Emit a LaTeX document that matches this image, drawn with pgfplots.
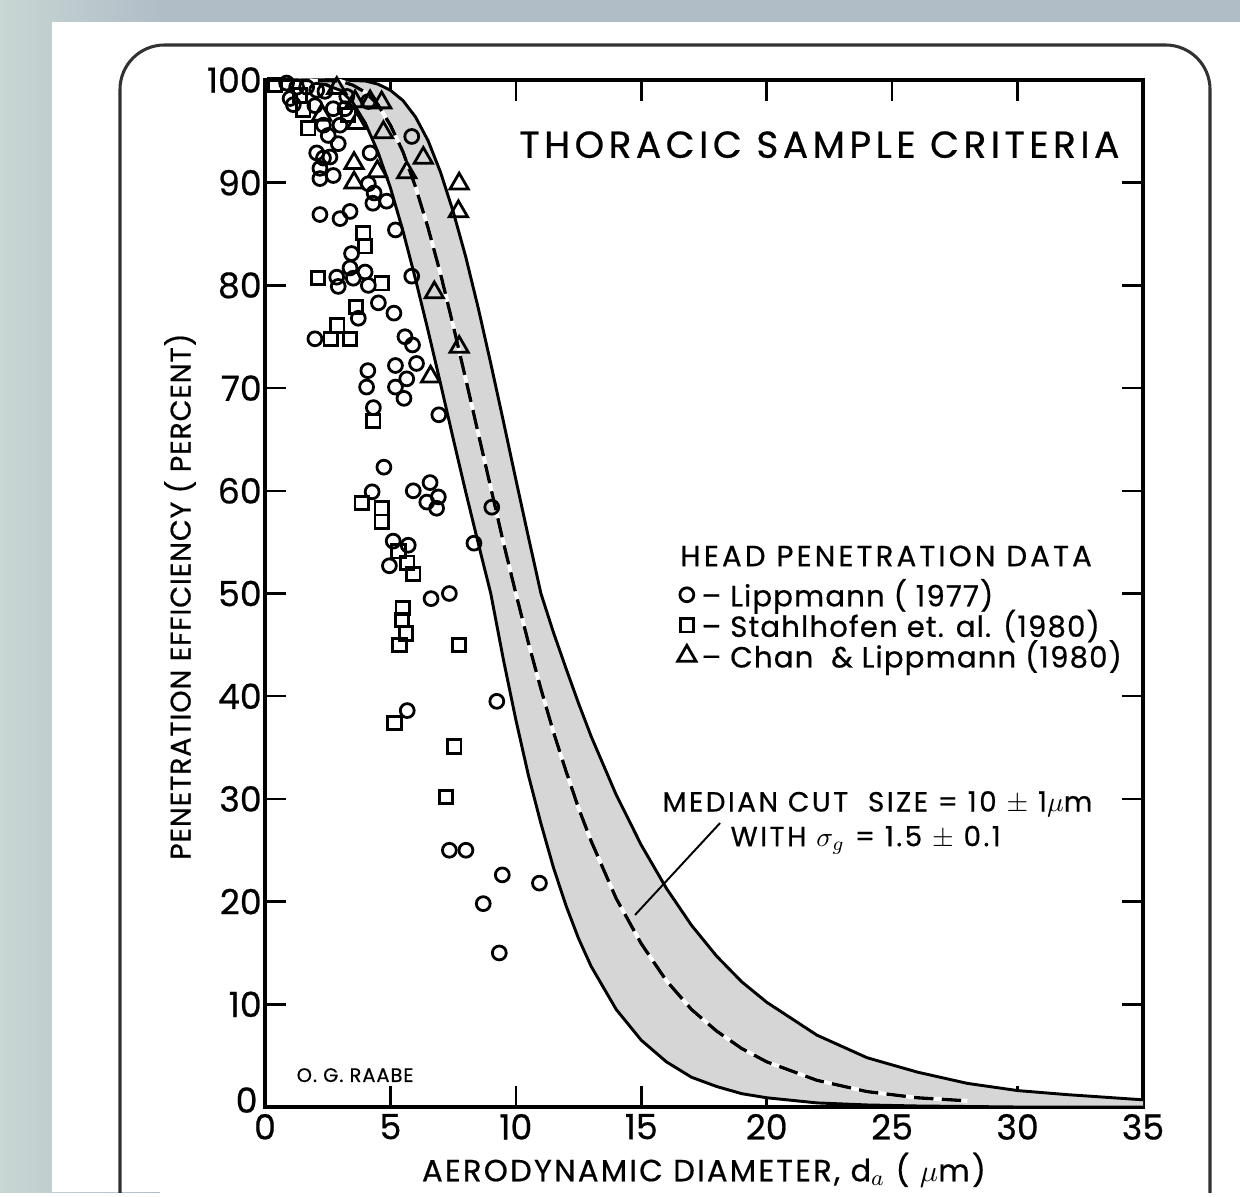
\documentclass[border=0pt]{standalone}
\usepackage{fontspec}
\setmainfont{Poppins}[FakeBold=0.6]
\usepackage{pgfplots}
\usepackage{pgfplotstable}
\pgfplotsset{compat=1.18}

\pgfplotstableread{
d p
1 100
2 99.9
3 99.0
3.5 97.8
4 95.8
4.5 93.0
5 89.5
5.5 85.3
6 80.6
6.5 75.6
7 70.4
7.5 65.1
8 59.9
8.5 54.9
9 50.0
9.5 43.6
10 37.7
10.5 32.3
11 27.6
11.5 23.3
12 19.6
12.5 16.4
13 13.7
14 9.5
15 6.5
16 4.4
17 2.9
18 2.0
19 1.3
20 0.9
22 0.4
24 0.2
26 0.1
30 0.0
35 0.0
}\lowerT

\pgfplotstableread{
d p
1 100
3 100
4 99.9
4.5 99.6
5 99.0
5.5 98.0
6 96.4
6.5 94.1
7 91.0
7.5 87.2
8 82.8
8.5 77.8
9 72.4
9.5 66.8
10 61.1
10.5 55.5
11 50.0
11.5 46.2
12 42.7
12.5 39.3
13 36.1
14 30.4
15 25.5
16 21.3
17 17.7
18 14.7
19 12.2
20 10.2
22 7.0
24 4.8
26 3.4
28 2.3
30 1.6
32 1.2
35 0.7
}\upperT

\pgfplotstableread{
d p
1 100
3 99.9
3.5 99.5
4 98.8
4.5 97.6
5 95.6
5.5 93.0
6 89.6
6.5 85.6
7 81.1
7.5 76.1
8 70.9
8.5 65.6
9 60.3
9.5 55.0
10 50.0
10.5 45.2
11 40.7
11.5 36.5
12 32.7
12.5 29.1
13 25.9
14 20.3
15 15.9
16 12.3
17 9.5
18 7.4
19 5.7
20 4.4
22 2.6
24 1.5
26 0.9
28 0.6
}\medianT

\pgfplotstableread{
x y
0.86 99.7
1.26 99.3
1.00 98.2
1.66 99.3
2.06 99.0
2.39 98.9
3.26 98.4
4.12 97.9
1.13 97.6
1.99 97.5
2.72 97.2
3.19 97.2
2.33 95.6
2.99 95.6
2.52 94.6
2.92 93.8
5.85 94.5
2.06 92.9
2.33 92.4
2.59 92.5
4.19 92.9
2.19 91.4
2.72 90.7
2.19 90.4
4.12 89.9
4.35 89.0
4.30 88.0
4.85 88.2
2.19 86.9
2.99 86.5
3.39 87.2
5.20 85.4
3.45 83.1
3.39 81.7
3.99 81.3
2.86 80.8
2.92 79.9
3.52 80.7
4.12 80.0
5.85 80.9
4.52 78.3
3.72 76.8
5.14 77.3
1.99 74.8
5.58 75.0
5.88 74.2
4.10 71.7
5.20 72.2
6.04 72.4
4.05 70.1
5.20 70.1
5.65 70.9
5.54 69.0
4.32 68.1
6.93 67.4
4.74 62.3
6.58 60.8
5.91 60.0
4.27 59.9
6.91 59.4
6.45 58.9
6.84 58.3
9.04 58.4
8.33 54.9
5.11 55.1
5.71 54.7
4.96 52.7
6.62 49.5
7.35 50.0
9.24 39.5
5.67 38.6
7.35 25.0
8.01 25.0
9.46 22.6
10.94 21.8
8.70 19.8
9.34 15.0
}\lippT

\pgfplotstableread{
x y
0.40 99.5
1.40 98.5
1.53 97.1
3.32 96.6
1.73 95.3
3.92 85.1
3.99 83.8
2.12 80.7
4.65 80.2
3.62 77.9
2.88 76.1
2.62 74.8
3.39 74.8
4.32 66.8
3.85 58.8
4.65 58.3
4.65 57.0
5.32 54.1
5.67 53.0
5.91 51.9
5.49 48.6
5.46 47.4
5.62 46.1
5.36 45.0
7.73 45.0
5.16 37.4
7.55 35.1
7.22 30.2
}\stahlT

\pgfplotstableread{
x y
2.86 99.2
3.59 97.9
4.19 97.9
4.65 97.8
2.26 96.6
3.65 95.8
4.72 94.9
6.31 92.4
3.55 91.9
4.48 91.1
5.65 91.0
3.55 90.0
7.74 89.9
7.71 87.2
6.75 79.3
7.74 74.0
6.60 71.1
}\chanT

\begin{document}
\begin{tikzpicture}
\begin{scope}[x=0.36pt,y=0.36pt]
\clip (0,0) rectangle (1240,1192);
\fill[color={rgb,255:red,176;green,189;blue,199}] (0,0) rectangle (1240,1192);
\shade[left color={rgb,255:red,200;green,214;blue,212}, right color={rgb,255:red,176;green,189;blue,199}] (0,0) rectangle (160,1192);
\fill[white] (52,0) rectangle (1240,1170);
\draw[line width=1.1pt, color={rgb,255:red,50;green,50;blue,50}, rounded corners=16] (120,-40) -- (120,1147) -- (1210,1147) -- (1210,-40);
\end{scope}
\begin{axis}[
  at={(95.4pt,30.6pt)}, anchor=south west,
  scale only axis, width=316.08pt, height=369.72pt,
  xmin=0, xmax=35, ymin=0, ymax=100,
  xtick={0,5,...,35}, ytick={10,20,...,100},
  extra y ticks={0},
  extra y tick style={yticklabel style={yshift=2.5pt, xshift=-1.5pt}},
  tick align=inside, major tick length=7.6pt,
  axis line style={line width=1.1pt},
  tick style={line width=0.9pt, black},
  ticklabel style={font=\fontsize{12.5}{14}\selectfont},
  /pgf/number format/assume math mode=true,
  yticklabel style={inner sep=1pt},
  xticklabel style={yshift=1pt},
  clip=false,
  legend style={draw=none, fill=none, at={(axis cs:16.43,52.0)}, anchor=north west,
    font={\fontsize{10.5}{12}\selectfont\addfontfeatures{LetterSpace=4}}, row sep=-4.3pt, inner sep=0pt},
  legend cell align=left,
  legend image code/.code={\draw[mark repeat=2,mark phase=2,#1] plot coordinates {(0cm,0cm)(0.14cm,0cm)(0.28cm,0cm)};},
]
% shaded band between the two bounding curves (upper forward, lower reversed)
\addplot[fill=black!16, draw=none, forget plot] coordinates {
(1,100)(3,100)(4,99.9)(4.5,99.6)(5,99.0)(5.5,98.0)(6,96.4)(6.5,94.1)(7,91.0)(7.5,87.2)(8,82.8)(8.5,77.8)(9,72.4)(9.5,66.8)(10,61.1)(10.5,55.5)(11,50.0)(11.5,46.2)(12,42.7)(12.5,39.3)(13,36.1)(14,30.4)(15,25.5)(16,21.3)(17,17.7)(18,14.7)(19,12.2)(20,10.2)(22,7.0)(24,4.8)(26,3.4)(28,2.3)(30,1.6)(32,1.2)(35,0.7)
(35,0.0)(30,0.0)(26,0.1)(24,0.2)(22,0.4)(20,0.9)(19,1.3)(18,2.0)(17,2.9)(16,4.4)(15,6.5)(14,9.5)(13,13.7)(12.5,16.4)(12,19.6)(11.5,23.3)(11,27.6)(10.5,32.3)(10,37.7)(9.5,43.6)(9,50.0)(8.5,54.9)(8,59.9)(7.5,65.1)(7,70.4)(6.5,75.6)(6,80.6)(5.5,85.3)(5,89.5)(4.5,93.0)(4,95.8)(3.5,97.8)(3,99.0)(2,99.9)(1,100)
} -- cycle;
\addplot[line width=1.05pt, forget plot] table[x=d,y=p] {\upperT};
\addplot[line width=1.05pt, forget plot] table[x=d,y=p] {\lowerT};
\addplot[white, line width=1.4pt, forget plot] table[x=d,y=p] {\medianT};
\addplot[line width=1.2pt, dash pattern=on 7pt off 3pt, forget plot] table[x=d,y=p] {\medianT};

\addplot[only marks, mark=o, mark size=2.5pt, mark options={line width=1pt}] table[x=x,y=y] {\lippT};
\addplot[only marks, mark=square, mark size=2.4pt, mark options={line width=1pt}] table[x=x,y=y] {\stahlT};
\addplot[only marks, mark=triangle, mark size=3.8pt, mark options={line width=1pt, fill=white}] table[x=x,y=y] {\chanT};
\legend{-- Lippmann ( 1977),-- Stahlhofen et. al. (1980),-- Chan \ \& Lippmann (1980)}

\node[inner sep=0pt, font={\fontsize{13.5}{15}\selectfont\addfontfeatures{LetterSpace=12}}] at (axis cs:22.1,93.7) {THORACIC SAMPLE CRITERIA};
\node[anchor=west, inner sep=0pt, font={\fontsize{10.5}{12}\selectfont\addfontfeatures{LetterSpace=11}}] at (axis cs:16.54,53.65) {HEAD PENETRATION DATA};
\node[anchor=west, inner sep=0pt, font={\fontsize{10}{12}\selectfont\addfontfeatures{LetterSpace=9}}] at (axis cs:15.83,29.5) {MEDIAN CUT \ SIZE = 10 $\pm$ 1$\mu$m};
\node[anchor=west, inner sep=0pt, font={\fontsize{10}{12}\selectfont\addfontfeatures{LetterSpace=9}}] at (axis cs:18.54,26.0) {WITH $\sigma_g$ = 1.5 $\pm$ 0.1};
\draw[line width=0.7pt] (axis cs:18.14,27.65) -- (axis cs:14.75,18.7);
\node[font={\fontsize{7}{8}\selectfont\addfontfeatures{LetterSpace=5}}] at (axis cs:3.59,3.1) {O. G. RAABE};
\node[rotate=90, font={\fontsize{10.2}{12}\selectfont\addfontfeatures{LetterSpace=3}}] at (axis cs:-3.39,49.7) {PENETRATION EFFICIENCY ( PERCENT)};
\node[font={\fontsize{11}{12}\selectfont\addfontfeatures{LetterSpace=7.5}}] at (axis cs:17.5,-6.13) {AERODYNAMIC DIAMETER, d$_a$ ( $\mu$m)};
\end{axis}
\end{tikzpicture}
\end{document}
